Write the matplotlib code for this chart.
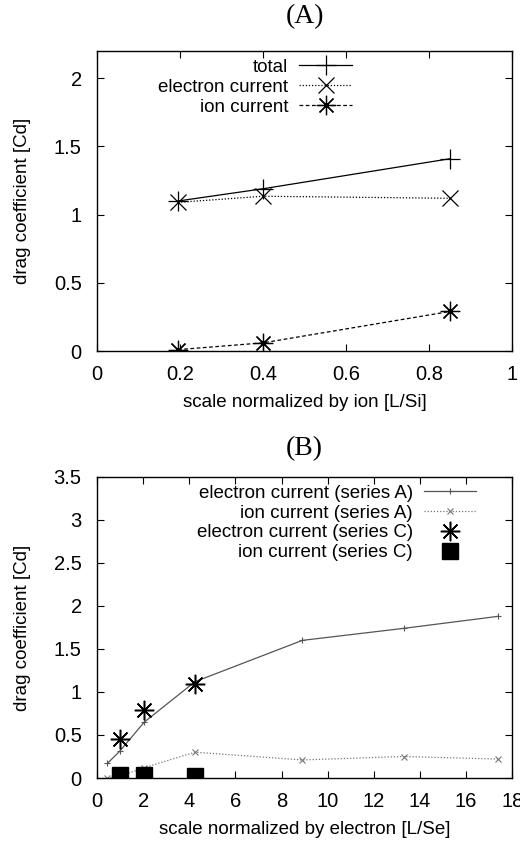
import matplotlib
matplotlib.use("Agg")
import matplotlib.pyplot as plt

plt.rcParams['font.family'] = ['Liberation Sans', 'DejaVu Sans']

# (A) drag vs. scale normalized by ion
scale_ion = [0.195, 0.40, 0.85]
cd_total = [1.10, 1.19, 1.41]
cd_electron = [1.09, 1.135, 1.12]
cd_ion = [0.01, 0.06, 0.29]

# (B) drag vs. scale normalized by electron
scale_e_a = [0.45, 0.98, 2.05, 4.25, 8.9, 13.3, 17.4]
cd_electron_a = [0.17, 0.31, 0.65, 1.12, 1.60, 1.74, 1.88]
cd_ion_a = [0.00, 0.02, 0.12, 0.30, 0.21, 0.25, 0.22]
scale_e_c = [0.98, 2.05, 4.25]
cd_electron_c = [0.45, 0.79, 1.09]
cd_ion_c = [0.03, 0.03, 0.02]

ticks_a_x = [0, 0.2, 0.4, 0.6, 0.8, 1]
ticks_a_y = [0, 0.5, 1, 1.5, 2]
ticks_b_x = list(range(0, 19, 2))
ticks_b_y = [0, 0.5, 1, 1.5, 2, 2.5, 3, 3.5]

STAR = (8, 2, 0)
TICK_FS = 14.5
LABEL_FS = 13.5


def fmt(v):
    return ('%g' % v)


def style_axes(ax, xt, yt):
    ax.set_xticks(xt)
    ax.set_xticklabels([fmt(v) for v in xt])
    ax.set_yticks(yt)
    ax.set_yticklabels([fmt(v) for v in yt])
    for s in ax.spines.values():
        s.set_linewidth(1.0)
        s.set_color('black')
    ax.tick_params(direction='in', top=True, right=True, length=5, width=0.8,
                   labelsize=TICK_FS)
    ax.tick_params(axis='x', pad=10)
    ax.tick_params(axis='y', pad=11)
    ax.yaxis.set_label_coords(-0.158, 0.5)


fig = plt.figure(figsize=(5.2, 8.43), dpi=100)

# ---- panel A ----
ax1 = fig.add_axes([0.1865, 0.5836, 0.7985, 0.3559])
ax1.plot(scale_ion, cd_total, color='black', lw=0.9, ls='-',
         marker='+', ms=14, mew=0.9, label='total')
ax1.plot(scale_ion, cd_electron, color='black', lw=0.9, ls=(0, (1, 1.5)),
         marker='x', ms=12, mew=0.9, label='electron current')
ax1.plot(scale_ion, cd_ion, color='black', lw=0.9, ls=(0, (3, 2)),
         marker=STAR, ms=14, mew=0.9, label='ion current')
ax1.set_xlim(0, 1)
ax1.set_ylim(0, 2.2)
style_axes(ax1, ticks_a_x, ticks_a_y)
ax1.set_xlabel('scale normalized by ion [L/Si]', fontsize=LABEL_FS, labelpad=7)
ax1.set_ylabel('drag coefficient [Cd]', fontsize=LABEL_FS)
ax1.set_title('(A)', fontsize=20, family='Liberation Serif', pad=20)
ax1.legend(loc='upper right', bbox_to_anchor=(0.632, 1.0), frameon=False,
           markerfirst=False, alignment='right', fontsize=LABEL_FS,
           handlelength=2.8, handletextpad=0.6, labelspacing=0.15,
           borderaxespad=0.0)

# ---- panel B ----
ax2 = fig.add_axes([0.1865, 0.0771, 0.7985, 0.3571])
ax2.plot(scale_e_a, cd_electron_a, color='#555555', lw=0.9, ls='-',
         marker='+', ms=5, mew=0.8, label='electron current (series A)')
ax2.plot(scale_e_a, cd_ion_a, color='#777777', lw=0.9, ls=(0, (1, 1.5)),
         marker='x', ms=4, mew=0.8, label='ion current (series A)')
ax2.plot(scale_e_c, cd_electron_c, color='black', ls='none',
         marker=STAR, ms=14, mew=1.1, label='electron current (series C)')
ax2.plot(scale_e_c, cd_ion_c, color='black', ls='none',
         marker='s', ms=12, label='ion current (series C)')
ax2.set_xlim(0, 18)
ax2.set_ylim(0, 3.5)
style_axes(ax2, ticks_b_x, ticks_b_y)
ax2.set_xlabel('scale normalized by electron [L/Se]', fontsize=LABEL_FS, labelpad=7)
ax2.set_ylabel('drag coefficient [Cd]', fontsize=LABEL_FS)
ax2.set_title('(B)', fontsize=20, family='Liberation Serif', pad=16)
ax2.legend(loc='upper right', bbox_to_anchor=(0.932, 1.0), frameon=False,
           markerfirst=False, alignment='right', fontsize=LABEL_FS,
           handlelength=2.8, handletextpad=0.6, labelspacing=0.15,
           borderaxespad=0.0)

fig.savefig('out.png', dpi=100)
